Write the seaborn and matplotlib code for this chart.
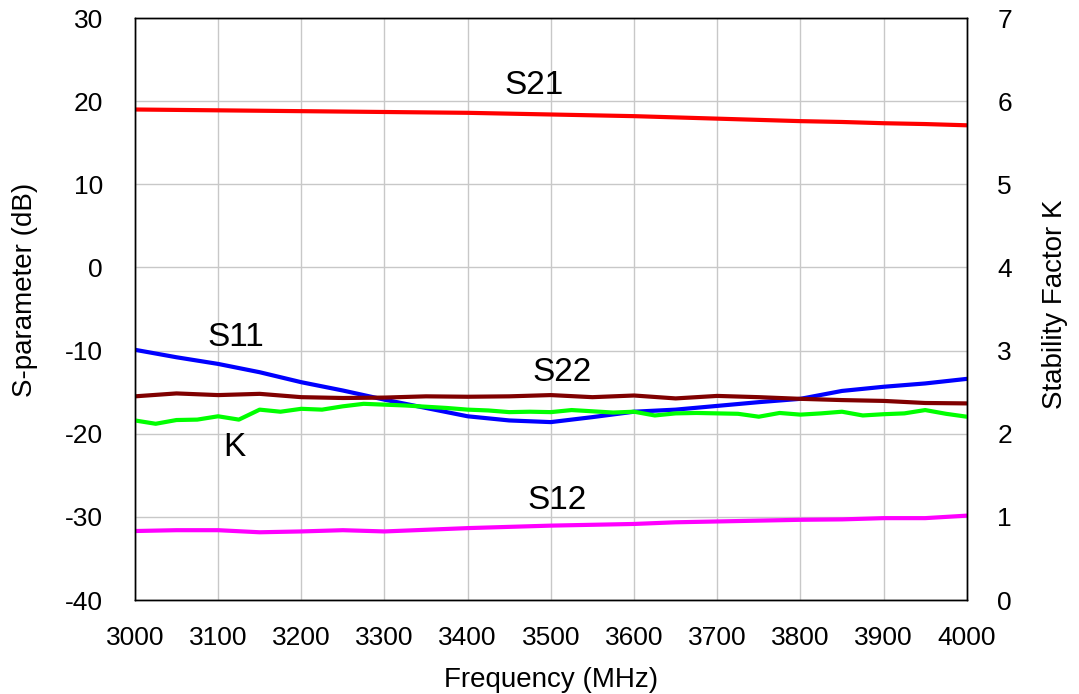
import matplotlib
matplotlib.use("Agg")
import matplotlib.pyplot as plt
import numpy as np
import pandas as pd
import seaborn as sns

# frequency grid (MHz)
freq50 = [3000, 3050, 3100, 3150, 3200, 3250, 3300, 3350, 3400, 3450, 3500,
          3550, 3600, 3650, 3700, 3750, 3800, 3850, 3900, 3950, 4000]
freq25 = [3000, 3025, 3050, 3075, 3100, 3125, 3150, 3175, 3200, 3225, 3250,
          3275, 3300, 3325, 3350, 3375, 3400, 3425, 3450, 3475, 3500, 3525,
          3550, 3575, 3600, 3625, 3650, 3675, 3700, 3725, 3750, 3775, 3800,
          3825, 3850, 3875, 3900, 3925, 3950, 3975, 4000]

s21 = [19.0, 18.95, 18.9, 18.85, 18.8, 18.75, 18.7, 18.65, 18.6, 18.5, 18.4,
       18.3, 18.2, 18.05, 17.9, 17.75, 17.6, 17.5, 17.35, 17.25, 17.1]
s11 = [-9.9, -10.8, -11.6, -12.6, -13.8, -14.8, -15.9, -16.9, -17.9, -18.4, -18.6,
       -18.0, -17.35, -17.1, -16.65, -16.2, -15.8, -14.85, -14.35, -13.95, -13.4]
s22 = [-15.5, -15.15, -15.35, -15.2, -15.6, -15.7, -15.65, -15.5, -15.55, -15.5, -15.35,
       -15.6, -15.4, -15.75, -15.45, -15.6, -15.8, -15.95, -16.05, -16.3, -16.35]
s12 = [-31.7, -31.6, -31.6, -31.85, -31.75, -31.6, -31.75, -31.55, -31.35, -31.2, -31.05,
       -30.95, -30.85, -30.65, -30.55, -30.45, -30.35, -30.3, -30.15, -30.15, -29.85]
k_factor = [2.16, 2.12, 2.165, 2.17, 2.21, 2.17, 2.29, 2.265, 2.30, 2.29, 2.33,
            2.36, 2.35, 2.34, 2.325, 2.31, 2.29, 2.28, 2.26, 2.265, 2.26, 2.285,
            2.27, 2.255, 2.265, 2.22, 2.245, 2.25, 2.245, 2.24, 2.205, 2.25, 2.23,
            2.245, 2.265, 2.22, 2.235, 2.245, 2.285, 2.24, 2.205]

sns.set_theme(style="white")
plt.rcParams["font.family"] = ["Liberation Sans", "DejaVu Sans"]
plt.rcParams["axes.unicode_minus"] = False
for key in ["text.color", "axes.labelcolor", "xtick.color", "ytick.color"]:
    plt.rcParams[key] = "black"

sp = pd.DataFrame({"freq": freq50 * 4,
                   "val": s21 + s11 + s22 + s12,
                   "param": ["S21"] * 21 + ["S11"] * 21 + ["S22"] * 21 + ["S12"] * 21})
kdf = pd.DataFrame({"freq": freq25, "K": k_factor})

fig = plt.figure(figsize=(10.79, 6.94), dpi=100)
ax = fig.add_axes([0.125, 0.1354, 0.771, 0.8386])
ax2 = ax.twinx()

pal = {"S21": "#FF0000", "S11": "#0000FF", "S22": "#800000", "S12": "#FF00FF"}
sns.lineplot(data=sp, x="freq", y="val", hue="param", palette=pal, lw=3,
             legend=False, ax=ax)
sns.lineplot(data=kdf, x="freq", y="K", color="#00FF00", lw=3, ax=ax2)

ax.set_xlim(3000, 4000)
ax.set_ylim(-40, 30)
ax2.set_ylim(0, 7)
ax.set_xticks(range(3000, 4001, 100))
ax.set_yticks(range(-40, 31, 10))
ax2.set_yticks(range(0, 8))
ax.grid(True, color="#C8C8C8", lw=1)
ax.tick_params(axis="x", labelsize=19, length=0, pad=19)
ax.tick_params(axis="y", labelsize=19, length=0, pad=23)
ax2.tick_params(labelsize=19, length=0, pad=22)
ax.set_xlabel("")
ax.set_ylabel("")
ax2.set_ylabel("")
fig.text(551 / 1079, 1 - 680 / 694, "Frequency (MHz)", fontsize=20, ha="center", va="center")
fig.text(25 / 1079, 1 - 290 / 694, "S-parameter (dB)", fontsize=20, ha="center", va="center",
         rotation=90)
fig.text(1055 / 1079, 1 - 304 / 694, "Stability Factor K", fontsize=20, ha="center",
         va="center", rotation=90)
for a in (ax, ax2):
    for s in a.spines.values():
        s.set_color("black")
        s.set_linewidth(1)

for txt, x, y in [("S21", 3480, 21.9), ("S11", 3121, -8.4), ("S22", 3513, -12.6),
                  ("K", 3120, -21.6), ("S12", 3507, -28.0)]:
    ax.text(x, y, txt, fontsize=24, ha="center", va="center")

fig.savefig("out.png", dpi=100)
